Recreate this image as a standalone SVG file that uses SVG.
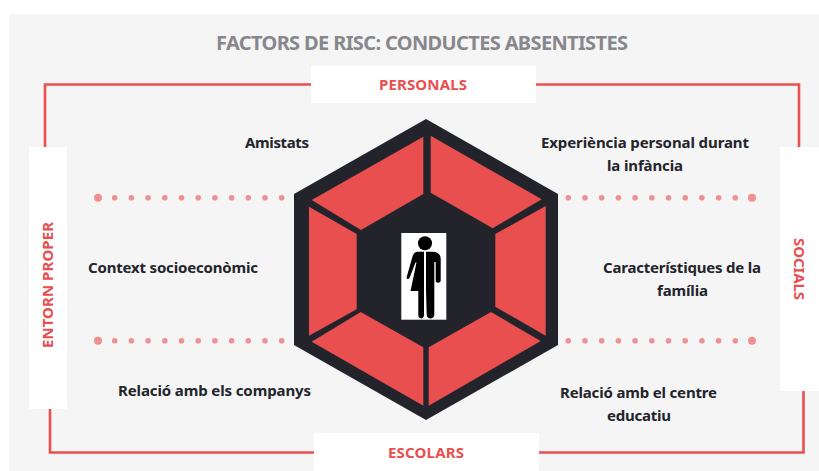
<svg xmlns="http://www.w3.org/2000/svg" width="819" height="471" viewBox="0 0 819 471">
<style>
text{font-family:"Noto Sans","Open Sans","Liberation Sans",sans-serif;font-weight:700}
.t{font-size:15px;fill:#23242c}
.l{font-size:15px;fill:#e94f4f}
.m{text-anchor:middle}
.f{fill:none;stroke:#e94f4f;stroke-width:2.6}
.d{fill:#ef9191}
.b{fill:#fff}
.s{fill:#e94f4f}
</style>
<defs>
<g id="row"><circle cx="0" cy="0" r="4"/><circle cx="16.7" r="2.8"/><circle cx="33.4" r="2.8"/><circle cx="50.1" r="2.8"/><circle cx="66.8" r="2.8"/><circle cx="83.5" r="2.8"/><circle cx="100.2" r="2.8"/><circle cx="116.9" r="2.8"/><circle cx="133.6" r="2.8"/><circle cx="150.3" r="2.8"/><circle cx="167" r="2.8"/><circle cx="183.7" r="2.8"/></g>
</defs>
<rect width="819" height="471" fill="#fff"/>
<rect x="9" y="14" width="810" height="457" fill="#f5f5f5"/>
<text id="title" x="422" y="49.500" class="m" font-size="20" fill="#87878d" textLength="412" lengthAdjust="spacing">FACTORS DE RISC: CONDUCTES ABSENTISTES</text>
<g id="connectors">
<path class="f" d="M45 147V84.500H799V147"/>
<path class="f" d="M50 409V452.500H803.500V390"/>
<use href="#row" class="d" x="98" y="197.700"/>
<use href="#row" class="d" x="98" y="340.800"/>
<use href="#row" class="d" transform="translate(752 197.700) scale(-1 1)"/>
<use href="#row" class="d" transform="translate(752 340.800) scale(-1 1)"/>
</g>
<g id="personals"><rect class="b" x="311" y="66" width="225" height="37"/><text class="l m" x="423" y="90" textLength="88" lengthAdjust="spacing">PERSONALS</text></g>
<g id="escolars"><rect class="b" x="314" y="433" width="225" height="38"/><text class="l m" x="426" y="458" textLength="76" lengthAdjust="spacing">ESCOLARS</text></g>
<g id="entorn-proper"><rect class="b" x="29" y="147" width="38" height="262"/><text class="l m" transform="translate(53 285) rotate(-90)" textLength="126" lengthAdjust="spacing">ENTORN PROPER</text></g>
<g id="socials"><rect class="b" x="780" y="147" width="39" height="244"/><text class="l m" transform="translate(794 269) rotate(90)" textLength="62" lengthAdjust="spacing">SOCIALS</text></g>
<g id="amistats"><text class="t" x="245" y="148" textLength="64" lengthAdjust="spacing">Amistats</text></g>
<g id="context"><text class="t" x="88" y="272.500" textLength="170" lengthAdjust="spacing">Context socioeconòmic</text></g>
<g id="companys"><text class="t" x="118" y="396" textLength="193" lengthAdjust="spacing">Relació amb els companys</text></g>
<g id="experiencia"><text class="t" x="541" y="148" textLength="208" lengthAdjust="spacing">Experiència personal durant</text><text class="t" x="607" y="171" textLength="76" lengthAdjust="spacing">la infància</text></g>
<g id="familia"><text class="t" x="603" y="273" textLength="158" lengthAdjust="spacing">Característiques de la</text><text class="t" x="657" y="296" textLength="51" lengthAdjust="spacing">família</text></g>
<g id="centre"><text class="t" x="560" y="398" textLength="157" lengthAdjust="spacing">Relació amb el centre</text><text class="t" x="607" y="421" textLength="64" lengthAdjust="spacing">educatiu</text></g>
<g id="hexagon">
<path fill="#22232b" d="M426 119L558 194V345L426 420L294 345V194Z"/>
<path class="s" d="M423.300 136.700V194L361 230L311.700 200Z"/>
<path class="s" d="M430.700 135.700V192.700L492.700 228.300L541.700 199.300Z"/>
<path class="s" d="M545.700 206V335.700L495.300 306.700V234Z"/>
<path class="s" d="M540.700 341L428.700 405.700V347.300L491 312Z"/>
<path class="s" d="M423.300 405.700L311.700 341.700L360.700 312L423.300 347.300Z"/>
<path class="s" d="M309 206.700L356.700 234V309.300L309 335.700Z"/>
</g>
<g id="person">
<rect x="401.300" y="233" width="45" height="86.700" fill="#fff"/>
<circle cx="425" cy="243.300" r="7"/>
<path d="M424 251.700H418.500C414.500 251.700 413.300 254 412.500 256.500L406.700 277C406.200 279 408.500 280 409.500 278L415.500 262.500H416.500L410.500 291H418.300V315C418.300 319.500 424 319.500 424 315Z"/>
<path d="M426 251.700H433C438 251.700 440.700 255 440.700 259V280.500C440.700 283.500 435.700 283.500 435.700 280.500V262H434.300V315C434.300 319.500 426.700 319.500 426.700 315L426 290Z"/>
</g>
</svg>
